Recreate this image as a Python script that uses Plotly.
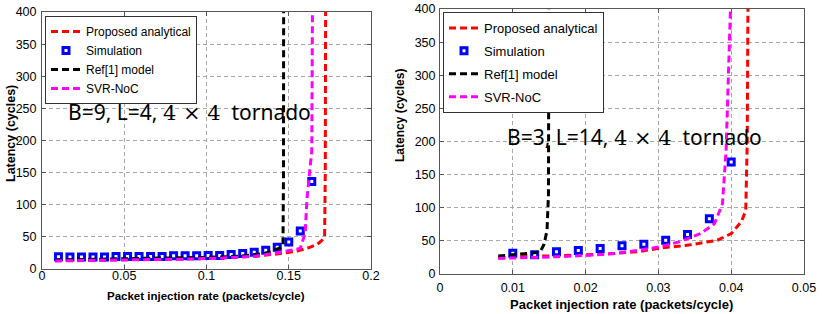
import plotly.graph_objects as go

# ---------------- data: left panel (B=9, L=4) ----------------
left_sim_x = [0.010, 0.017, 0.024, 0.031, 0.038, 0.045, 0.052, 0.059, 0.066, 0.073, 0.080, 0.087,
              0.094, 0.101, 0.108, 0.115, 0.122, 0.129, 0.136, 0.143, 0.150, 0.157, 0.164]
left_sim_y = [19, 18.5, 18.5, 18.5, 18.5, 19.5, 19.5, 19.5, 19.5, 19.5, 20.5, 20.5,
              20.5, 21, 21, 22.5, 24, 26, 29, 34, 42, 59, 136]

left_prop_x = [0.008, 0.03, 0.06, 0.09, 0.11, 0.13, 0.145, 0.155, 0.162, 0.167, 0.170, 0.1718, 0.1722, 0.1724]
left_prop_y = [13, 13.5, 14.5, 16, 17.5, 20, 24, 28, 33, 38, 44, 50, 150, 400]

left_ref_x = [0.008, 0.04, 0.07, 0.10, 0.12, 0.135, 0.141, 0.145, 0.1465, 0.1468, 0.1469]
left_ref_y = [14, 16, 17, 18, 20, 24, 29, 33, 38, 150, 400]

left_svr_x = [0.008, 0.03, 0.06, 0.09, 0.11, 0.13, 0.145, 0.153, 0.157, 0.160, 0.161, 0.163, 0.164, 0.1644]
left_svr_y = [12.5, 13, 14, 15.5, 17, 20, 26, 30, 32, 56, 107, 159, 184, 400]

# ---------------- data: right panel (B=3, L=14) ----------------
right_sim_x = [0.010, 0.013, 0.016, 0.019, 0.022, 0.025, 0.028, 0.031, 0.034, 0.037, 0.040]
right_sim_y = [31.5, 29, 33.5, 35.5, 38.5, 42.5, 45, 51, 59.5, 83.5, 169]

right_prop_x = [0.008, 0.012, 0.016, 0.020, 0.024, 0.0274, 0.0302, 0.0344, 0.0381, 0.040, 0.0414, 0.042, 0.0422, 0.0423]
right_prop_y = [25, 26, 27.5, 29, 31, 34, 39, 44, 51, 61, 79, 96, 200, 400]

right_ref_x = [0.008, 0.0105, 0.013, 0.0138, 0.0143, 0.0147, 0.0149, 0.01495]
right_ref_y = [27, 29, 32, 34, 45, 66, 120, 400]

right_svr_x = [0.008, 0.012, 0.016, 0.020, 0.024, 0.0274, 0.0302, 0.033, 0.0358, 0.0377, 0.0388, 0.0393, 0.0396, 0.0399]
right_svr_y = [23.5, 24.5, 26, 28, 31, 36, 41, 49, 61, 76, 106, 187, 300, 400]

# ---------------- labels / ticks ----------------
series_names = ["Proposed analytical", "Simulation", "Ref[1] model", "SVR-NoC"]
left_xtick_vals = [0, 0.05, 0.1, 0.15, 0.2]
left_xtick_text = ["0", "0.05", "0.1", "0.15", "0.2"]
right_xtick_vals = [0, 0.01, 0.02, 0.03, 0.04, 0.05]
right_xtick_text = ["0", "0.01", "0.02", "0.03", "0.04", "0.05"]
ytick_vals = [0, 50, 100, 150, 200, 250, 300, 350, 400]
ytick_text = ["0", "50", "100", "150", "200", "250", "300", "350", "400"]
xlabel = "Packet injection rate (packets/cycle)"
ylabel = "Latency (cycles)"
left_note = "B=9, L=4, <span style='font-family:DejaVu Serif'>4 × 4</span>\u00a0 tornado"
right_note = "B=3, L=14, <span style='font-family:DejaVu Serif'>4 × 4</span>\u00a0 tornado"

W, H = 822, 314
FONT = "Liberation Sans, Arial, sans-serif"
DASH = "7px,4px"
RED, BLUE, BLACK, MAG = "#ff0000", "#0000ff", "#000000", "#ff00ff"


def px_x(p):
    return p / W


def px_y(p):
    return 1 - p / H


fig = go.Figure()


def add_panel(xa, ya, legend, sx, sy, px_, py_, rx, ry, vx, vy):
    common = dict(xaxis=xa, yaxis=ya, legend=legend)
    fig.add_trace(go.Scatter(x=px_, y=py_, mode="lines", name=series_names[0], legendgroup=legend + "a",
                             line=dict(color=RED, width=3, dash=DASH), **common))
    fig.add_trace(go.Scatter(x=sx, y=sy, mode="markers", name=series_names[1], legendgroup=legend + "b",
                             marker=dict(symbol="square", size=6, color="white",
                                         line=dict(color=BLUE, width=3)), **common))
    fig.add_trace(go.Scatter(x=rx, y=ry, mode="lines", name=series_names[2], legendgroup=legend + "c",
                             line=dict(color=BLACK, width=3, dash=DASH), **common))
    fig.add_trace(go.Scatter(x=vx, y=vy, mode="lines", name=series_names[3], legendgroup=legend + "d",
                             line=dict(color=MAG, width=3, dash=DASH), **common))


add_panel("x", "y", "legend", left_sim_x, left_sim_y, left_prop_x, left_prop_y,
          left_ref_x, left_ref_y, left_svr_x, left_svr_y)
add_panel("x2", "y2", "legend2", right_sim_x, right_sim_y, right_prop_x, right_prop_y,
          right_ref_x, right_ref_y, right_svr_x, right_svr_y)

axis_common = dict(showline=True, linecolor="#555555", linewidth=1, mirror="ticks",
                   ticks="inside", ticklen=4, tickcolor="#555555",
                   showgrid=True, gridcolor="#a8a8a8", griddash="4px,3px", gridwidth=1,
                   zeroline=False, automargin=False, tickfont=dict(family=FONT, size=12.5, color="#000"))

fig.update_layout(
    width=W, height=H, margin=dict(l=0, r=0, t=0, b=0),
    paper_bgcolor="white", plot_bgcolor="white",
    font=dict(family=FONT, color="#000"),
    xaxis=dict(domain=[px_x(42), px_x(371)], range=[0, 0.2], tickvals=left_xtick_vals,
               ticktext=left_xtick_text, anchor="y", ticklabelstandoff=-5, **axis_common),
    yaxis=dict(domain=[px_y(269), px_y(12)], range=[0, 400], tickvals=ytick_vals,
               ticktext=ytick_text, anchor="x", ticklabelstandoff=2, **axis_common),
    xaxis2=dict(domain=[px_x(440), px_x(804)], range=[0, 0.05], tickvals=right_xtick_vals,
                ticktext=right_xtick_text, anchor="y2", ticklabelstandoff=2, **axis_common),
    yaxis2=dict(domain=[px_y(274), px_y(9)], range=[0, 400], tickvals=ytick_vals,
                ticktext=ytick_text, anchor="x2", ticklabelstandoff=1, **axis_common),
    legend=dict(x=px_x(45), y=px_y(16), xanchor="left", yanchor="top",
                bgcolor="white", bordercolor="#333333", borderwidth=1,
                font=dict(family=FONT, size=12, color="#000"), tracegroupgap=0,
                traceorder="grouped"),
    legend2=dict(x=px_x(443), y=px_y(12), xanchor="left", yanchor="top",
                 bgcolor="white", bordercolor="#333333", borderwidth=1,
                 font=dict(family=FONT, size=13, color="#000"), tracegroupgap=3,
                 traceorder="grouped"),
    showlegend=True,
)

annotations = [
    dict(text=xlabel, x=px_x(206), y=px_y(296), font=dict(size=11.5)),
    dict(text=xlabel, x=px_x(621), y=px_y(304), font=dict(size=13)),
    dict(text=ylabel, x=px_x(11), y=px_y(134), textangle=-90, font=dict(size=12.5)),
    dict(text=ylabel, x=px_x(400), y=px_y(116), textangle=-90, font=dict(size=12)),
]
for a in annotations:
    a.update(xref="paper", yref="paper", showarrow=False, xanchor="center", yanchor="middle")
    a["text"] = "<b>" + a["text"] + "</b>"
    a["font"].update(family=FONT, color="#000")

annotations += [
    dict(text=left_note, x=px_x(189), y=px_y(112), xref="paper", yref="paper", showarrow=False,
         xanchor="center", yanchor="middle", font=dict(family="Noto Sans", size=21, color="#000")),
    dict(text=right_note, x=px_x(634), y=px_y(137), xref="paper", yref="paper", showarrow=False,
         xanchor="center", yanchor="middle", font=dict(family="Noto Sans", size=21, color="#000")),
]
fig.update_layout(annotations=annotations)

fig.write_html("out.html", config={"displayModeBar": False},
               post_script="document.body.style.margin='0';document.body.style.padding='0';"
                           "document.documentElement.style.overflow='hidden';")
